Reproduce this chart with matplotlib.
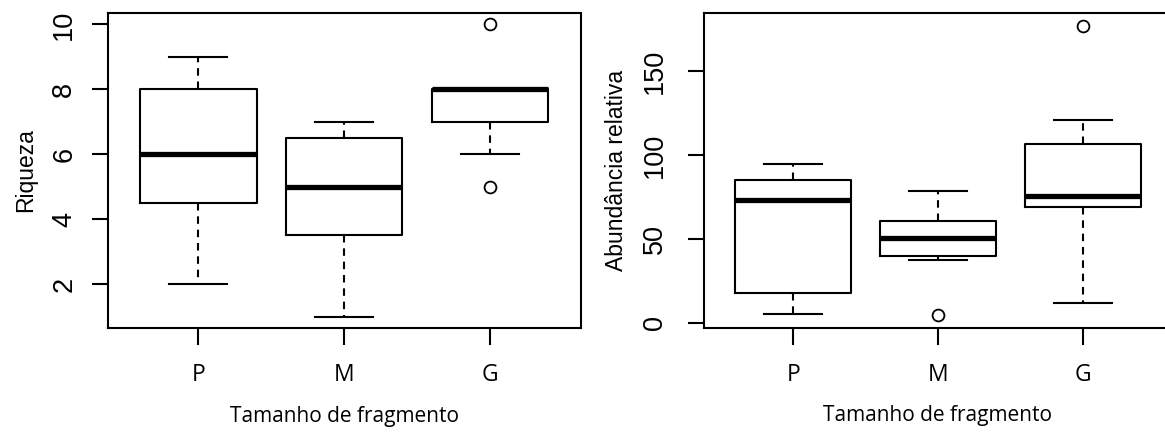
import matplotlib
matplotlib.use("Agg")
import matplotlib.pyplot as plt

# ---- data ----
categories = ["P", "M", "G"]

riq_whislo = [2, 1, 6]
riq_q1 = [4.5, 3.5, 7]
riq_med = [6, 5, 8]
riq_q3 = [8, 6.5, 8]
riq_whishi = [9, 7, 8]
riq_fliers = [[], [], [10, 5]]

abu_whislo = [5, 37.5, 11.5]
abu_q1 = [18, 39.5, 69]
abu_med = [73, 50.5, 75.5]
abu_q3 = [85, 60.5, 106.5]
abu_whishi = [94.5, 78.5, 121]
abu_fliers = [[], [4.5], [177]]

riq_ticks = [2, 4, 6, 8, 10]
abu_ticks = [0, 50, 100, 150]

xlabel = "Tamanho de fragmento"
riq_label = "Riqueza"
abu_label = "Abundância relativa"


def make_stats(lo, q1, med, q3, hi, fl):
    return [dict(whislo=a, q1=b, med=c, q3=d, whishi=e, fliers=f, label=n)
            for a, b, c, d, e, f, n in zip(lo, q1, med, q3, hi, fl, categories)]


W, H = 1165, 433
fig = plt.figure(figsize=(W / 100, H / 100), dpi=100)

def px_axes(x0, x1, ytop, ybot):
    return fig.add_axes([x0 / W, 1 - ybot / H, (x1 - x0) / W, (ybot - ytop) / H])

ax1 = px_axes(107.7, 580.5, 12.7, 328.3)
ax2 = px_axes(703.5, 1172.4, 12.7, 328.3)

lw = 1.5
dash = (0, (3.6, 2.8))
common = dict(
    positions=[1, 2, 3], widths=0.8, capwidths=0.4, patch_artist=False,
    boxprops=dict(color="black", linewidth=lw),
    whiskerprops=dict(color="black", linewidth=lw, linestyle=dash),
    capprops=dict(color="black", linewidth=lw),
    medianprops=dict(color="black", linewidth=3.8, solid_capstyle="butt"),
    flierprops=dict(marker="o", markerfacecolor="none", markeredgecolor="black",
                    markersize=8.5, markeredgewidth=1.3, linestyle="none"),
)

ax1.bxp(make_stats(riq_whislo, riq_q1, riq_med, riq_q3, riq_whishi, riq_fliers), **common)
ax2.bxp(make_stats(abu_whislo, abu_q1, abu_med, abu_q3, abu_whishi, abu_fliers), **common)

ax1.set_ylim(0.64, 10.36)
ax2.set_ylim(-3.3, 184.8)
ax1.set_yticks(riq_ticks)
ax2.set_yticks(abu_ticks)

for ax, ypad in ((ax1, 10.5), (ax2, 14.0)):
    ax.set_xlim(0.38, 3.62)
    ax.set_xticks([1, 2, 3])
    ax.set_xticklabels(categories)
    for sp in ax.spines.values():
        sp.set_linewidth(lw)
        sp.set_color("black")
    ax.tick_params(axis="x", length=12.5, width=lw, pad=12.5, labelsize=16.5,
                   labelfontfamily="Open Sans", colors="black")
    ax.tick_params(axis="y", length=11.5, width=lw, pad=ypad, labelsize=19.5,
                   labelfontfamily="Liberation Sans", colors="black")
    for t in ax.get_yticklabels():
        t.set_rotation(90)
        t.set_va("center")

# axis labels
cy = 1 - (12.7 + 328.3) / 2 / H
fig.text((107.7 + 580.5) / 2 / W, 1 - 421.7 / H, xlabel, ha="center", va="baseline",
         fontsize=15, family="Open Sans")
fig.text((703.5 + 1172.4) / 2 / W, 1 - 421.0 / H, xlabel, ha="center", va="baseline",
         fontsize=15, family="Open Sans")
fig.text(31.7 / W, cy, riq_label, rotation=90, rotation_mode="anchor",
         ha="center", va="baseline", fontsize=16.5, family="Liberation Sans")
fig.text(623.3 / W, cy, abu_label, rotation=90, rotation_mode="anchor",
         ha="center", va="baseline", fontsize=16.5, family="Liberation Sans")

fig.savefig("out.png", dpi=100)
